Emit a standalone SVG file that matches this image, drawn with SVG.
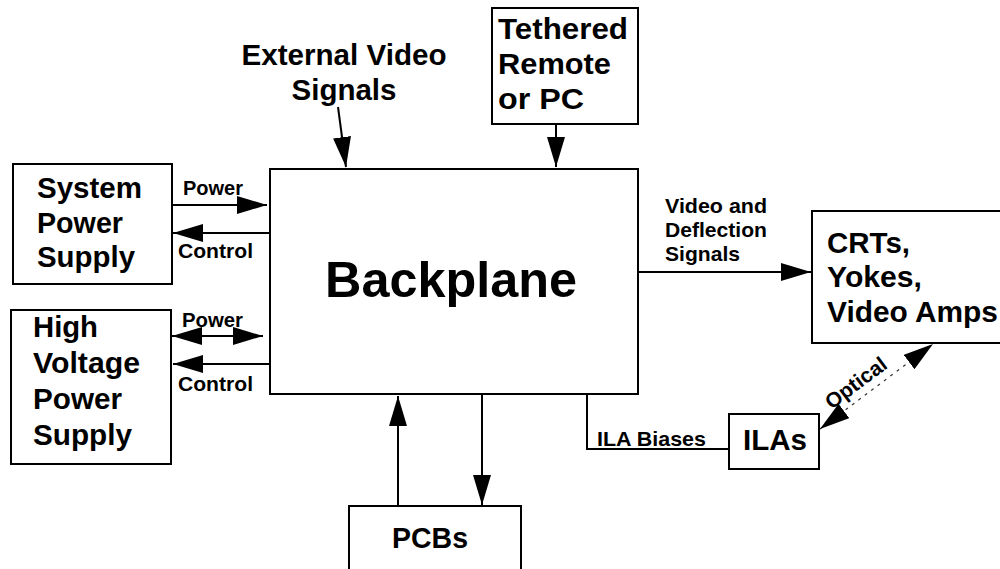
<svg xmlns="http://www.w3.org/2000/svg" width="1000" height="569" viewBox="0 0 1000 569">
  <style>
    .box { fill: #ffffff; stroke: #000000; stroke-width: 2; }
    .big { font-family: "Liberation Sans", Arial, sans-serif; font-weight: bold; font-size: 29px; fill: #000000; }
    .huge { font-family: "Liberation Sans", Arial, sans-serif; font-weight: bold; font-size: 50px; fill: #000000; }
    .small { font-family: "Liberation Sans", Arial, sans-serif; font-weight: bold; font-size: 21px; fill: #000000; }
    .wire { fill: none; stroke: #000000; stroke-width: 2; }
    .arrow { fill: none; stroke: #000000; stroke-width: 2; marker-end: url(#head); }
    .both { fill: none; stroke: #000000; stroke-width: 2; marker-start: url(#head); marker-end: url(#head); }
    .dashed { fill: none; stroke: #333333; stroke-width: 1.2; stroke-dasharray: 3 5; marker-start: url(#head); marker-end: url(#head); }
  </style>
  <defs>
    <marker id="head" viewBox="0 0 30 18" refX="30" refY="9" markerWidth="30" markerHeight="18" markerUnits="userSpaceOnUse" orient="auto-start-reverse">
      <path d="M0,0 L30,9 L0,18 Z" fill="#000000"/>
    </marker>
  </defs>

  <rect width="1000" height="569" fill="#ffffff"/>

  <!-- connectors -->
  <g id="connectors">
    <line class="arrow" x1="338" y1="107" x2="346" y2="167"/>
    <line class="arrow" x1="556" y1="124" x2="556" y2="167"/>
    <line class="arrow" x1="172" y1="205" x2="267" y2="205"/>
    <line class="arrow" x1="270" y1="233" x2="173" y2="233"/>
    <line class="both" x1="172" y1="336" x2="263" y2="336"/>
    <line class="arrow" x1="270" y1="364" x2="173" y2="364"/>
    <line class="arrow" x1="638" y1="272" x2="811" y2="272"/>
    <line class="arrow" x1="398" y1="506" x2="398" y2="396"/>
    <line class="arrow" x1="482" y1="394" x2="482" y2="505"/>
    <polyline class="wire" points="587,394 587,449 729,449"/>
    <line class="dashed" x1="820" y1="429" x2="933" y2="344"/>
    <text class="small" x="183" y="195" textLength="60" lengthAdjust="spacingAndGlyphs">Power</text>
    <text class="small" x="178" y="258" textLength="75" lengthAdjust="spacingAndGlyphs">Control</text>
    <text class="small" x="182" y="327" textLength="61" lengthAdjust="spacingAndGlyphs">Power</text>
    <text class="small" x="178" y="391" textLength="75" lengthAdjust="spacingAndGlyphs">Control</text>
    <text class="small" x="665" y="213" textLength="102" lengthAdjust="spacingAndGlyphs">Video and</text>
    <text class="small" x="665" y="237" textLength="102" lengthAdjust="spacingAndGlyphs">Deflection</text>
    <text class="small" x="665" y="261" textLength="75" lengthAdjust="spacingAndGlyphs">Signals</text>
    <text class="small" x="597" y="446" textLength="109" lengthAdjust="spacingAndGlyphs">ILA Biases</text>
    <text class="small" transform="translate(856,383) rotate(-36.8)" text-anchor="middle" y="7">Optical</text>
  </g>

  <!-- external input label -->
  <g id="external-video">
    <text class="big" x="344" y="65" text-anchor="middle" textLength="205" lengthAdjust="spacingAndGlyphs">External Video</text>
    <text class="big" x="344" y="100" text-anchor="middle" textLength="105" lengthAdjust="spacingAndGlyphs">Signals</text>
  </g>

  <g id="backplane">
    <rect class="box" x="270" y="169" width="368" height="225"/>
    <text class="huge" x="325" y="297" textLength="252" lengthAdjust="spacingAndGlyphs">Backplane</text>
  </g>

  <g id="tethered-remote">
    <rect class="box" x="492" y="8" width="146" height="116"/>
    <text class="big" x="498" y="39" textLength="130" lengthAdjust="spacingAndGlyphs">Tethered</text>
    <text class="big" x="498" y="74" textLength="113" lengthAdjust="spacingAndGlyphs">Remote</text>
    <text class="big" x="498" y="109" textLength="86" lengthAdjust="spacingAndGlyphs">or PC</text>
  </g>

  <g id="system-power-supply">
    <rect class="box" x="13" y="164" width="159" height="120"/>
    <text class="big" x="37" y="198" textLength="105" lengthAdjust="spacingAndGlyphs">System</text>
    <text class="big" x="37" y="233" textLength="86" lengthAdjust="spacingAndGlyphs">Power</text>
    <text class="big" x="37" y="267" textLength="98" lengthAdjust="spacingAndGlyphs">Supply</text>
  </g>

  <g id="hv-power-supply">
    <rect class="box" x="11" y="310" width="160" height="154"/>
    <text class="big" x="33" y="337" textLength="65" lengthAdjust="spacingAndGlyphs">High</text>
    <text class="big" x="33" y="373" textLength="107" lengthAdjust="spacingAndGlyphs">Voltage</text>
    <text class="big" x="33" y="409" textLength="89" lengthAdjust="spacingAndGlyphs">Power</text>
    <text class="big" x="33" y="445" textLength="99" lengthAdjust="spacingAndGlyphs">Supply</text>
  </g>

  <g id="crts">
    <rect class="box" x="812" y="211" width="200" height="132"/>
    <text class="big" x="827" y="253" textLength="83" lengthAdjust="spacingAndGlyphs">CRTs,</text>
    <text class="big" x="827" y="287" textLength="95" lengthAdjust="spacingAndGlyphs">Yokes,</text>
    <text class="big" x="827" y="322" textLength="171" lengthAdjust="spacingAndGlyphs">Video Amps</text>
  </g>

  <g id="ilas">
    <rect class="box" x="729" y="414" width="90" height="55"/>
    <text class="big" x="743" y="450" font-size="30" textLength="64" lengthAdjust="spacingAndGlyphs">ILAs</text>
  </g>

  <g id="pcbs">
    <rect class="box" x="349" y="506" width="172" height="100"/>
    <text class="big" x="392" y="548" textLength="76" lengthAdjust="spacingAndGlyphs">PCBs</text>
  </g>
</svg>
